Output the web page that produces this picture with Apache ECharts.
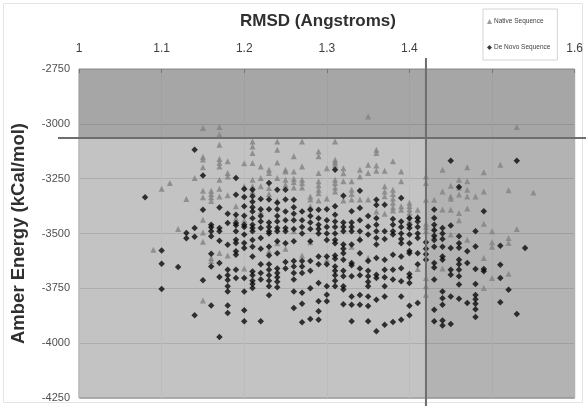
<!DOCTYPE html>
<html>
<head>
<meta charset="utf-8">
<script src="https://cdn.jsdelivr.net/npm/echarts@6/dist/echarts.min.js"></script>
<style>
  html, body { margin: 0; padding: 0; background: #ffffff; }
  #chart { width: 586px; height: 406px; }
</style>
</head>
<body>
<div id="chart"></div>
<script>
// Axis ranges and cut-off lines
const rmsdTicks = [1, 1.1, 1.2, 1.3, 1.4, 1.5, 1.6];
const energyTicks = [-4250, -4000, -3750, -3500, -3250, -3000, -2750];
const rmsdCutoff = 1.42;
const energyCutoff = -3065;

// Native sequence: [RMSD, energies at that RMSD]
const nativeSequence = [
  [1.09, [-3574]],
  [1.10, [-3296]],
  [1.11, [-3270]],
  [1.12, [-3480]],
  [1.13, [-3343]],
  [1.14, [-3247]],
  [1.15, [-3019, -3150, -3163, -3198, -3305, -3335, -3437, -3495, -3538, -3805]],
  [1.16, [-3305, -3320, -3335, -3352, -3612, -3625]],
  [1.17, [-3015, -3050, -3095, -3160, -3178, -3194, -3255, -3296, -3331, -3589]],
  [1.18, [-3171, -3224, -3240, -3326, -3600]],
  [1.19, [-3376, -3430]],
  [1.20, [-3180, -3285, -3440, -3660]],
  [1.21, [-3080, -3103, -3133, -3179, -3255, -3285, -3310]],
  [1.22, [-3194, -3247, -3285, -3400]],
  [1.23, [-3209, -3224, -3293, -3320, -3580]],
  [1.24, [-3080, -3118, -3176, -3247, -3350, -3545]],
  [1.25, [-3209, -3217, -3255, -3278, -3570]],
  [1.26, [-3148, -3217, -3250, -3265, -3290, -3490]],
  [1.27, [-3080, -3194, -3255, -3270, -3290, -3600]],
  [1.28, [-3331, -3345, -3376, -3540]],
  [1.29, [-3126, -3148, -3224, -3262, -3280, -3300, -3316, -3350]],
  [1.30, [-3202, -3340, -3620]],
  [1.31, [-3080, -3164, -3175, -3186, -3255, -3270, -3290, -3308]],
  [1.32, [-3202, -3225, -3262, -3350]],
  [1.33, [-3262, -3300, -3320, -3345, -3560]],
  [1.34, [-3209, -3240, -3345, -3520]],
  [1.35, [-2966, -3186, -3224, -3345, -3610]],
  [1.36, [-3118, -3133, -3190, -3214, -3400]],
  [1.37, [-3214, -3285, -3308, -3330, -3410]],
  [1.38, [-3171, -3300, -3320, -3340, -3360, -3380, -3395]],
  [1.39, [-3217, -3262, -3376, -3392]],
  [1.40, [-3360, -3375, -3390, -3405, -3420, -3440]],
  [1.41, [-3392, -3420, -3662]],
  [1.42, [-3240, -3270, -3346, -3455, -3470, -3490, -3703, -3741, -3779]],
  [1.43, [-3346, -3475, -3510]],
  [1.44, [-3209, -3308, -3391, -3660]],
  [1.45, [-3282, -3331, -3341, -3392, -3505]],
  [1.46, [-3255, -3290, -3322, -3406, -3440]],
  [1.47, [-3198, -3262, -3300, -3331, -3386, -3528]],
  [1.48, [-3331]],
  [1.49, [-3221, -3308, -3455, -3612, -3749]],
  [1.50, [-3490, -3540, -3560, -3703]],
  [1.51, [-3186]],
  [1.52, [-3303, -3521, -3543, -3683]],
  [1.53, [-3014, -3480]],
  [1.55, [-3313]]
];

// De novo sequence: [RMSD, energies at that RMSD]
const deNovoSequence = [
  [1.08, [-3335]],
  [1.10, [-3578, -3638, -3753]],
  [1.12, [-3653]],
  [1.13, [-3498, -3522]],
  [1.14, [-3118, -3475, -3515, -3873]],
  [1.15, [-3236, -3392, -3713]],
  [1.16, [-3460, -3472, -3490, -3513, -3592, -3650, -3828]],
  [1.17, [-3381, -3475, -3490, -3533, -3635, -3698, -3972]],
  [1.18, [-3410, -3452, -3551, -3665, -3690, -3712, -3740, -3764, -3828, -3862]],
  [1.19, [-3247, -3323, -3414, -3452, -3462, -3490, -3528, -3543, -3581, -3597, -3665, -3703]],
  [1.20, [-3297, -3334, -3376, -3419, -3460, -3470, -3505, -3543, -3566, -3703, -3764, -3850, -3900]],
  [1.21, [-3300, -3330, -3355, -3380, -3400, -3430, -3460, -3475, -3490, -3530, -3560, -3605, -3673, -3690, -3715, -3730, -3749]],
  [1.22, [-3343, -3389, -3420, -3445, -3475, -3520, -3570, -3640, -3680, -3710, -3900]],
  [1.23, [-3270, -3345, -3390, -3450, -3470, -3490, -3500, -3560, -3600, -3640, -3665, -3690, -3715, -3740, -3782]],
  [1.24, [-3300, -3360, -3390, -3420, -3445, -3475, -3490, -3535, -3590, -3660, -3680, -3700, -3720, -3745]],
  [1.25, [-3300, -3345, -3400, -3440, -3475, -3490, -3545, -3630, -3660]],
  [1.26, [-3346, -3380, -3410, -3440, -3480, -3535, -3625, -3650, -3680, -3710, -3765, -3840]],
  [1.27, [-3400, -3440, -3470, -3500, -3625, -3650, -3680, -3770, -3820, -3905]],
  [1.28, [-3392, -3420, -3450, -3480, -3535, -3625, -3670, -3750, -3890]],
  [1.29, [-3392, -3430, -3460, -3480, -3500, -3605, -3640, -3726, -3809, -3855, -3893]],
  [1.30, [-3389, -3440, -3470, -3500, -3530, -3605, -3640, -3741, -3779, -3809]],
  [1.31, [-3209, -3376, -3414, -3445, -3470, -3500, -3530, -3545, -3600, -3615, -3650, -3670, -3690, -3715, -3740]],
  [1.32, [-3328, -3450, -3470, -3490, -3550, -3570, -3590, -3620, -3670, -3695, -3740, -3755, -3822]],
  [1.33, [-3399, -3450, -3470, -3490, -3550, -3635, -3645, -3695, -3787, -3825, -3900]],
  [1.34, [-3305, -3384, -3440, -3490, -3530, -3590, -3660, -3690, -3780, -3825]],
  [1.35, [-3420, -3468, -3505, -3625, -3670, -3695, -3720, -3740, -3787, -3830, -3900]],
  [1.36, [-3346, -3370, -3430, -3460, -3490, -3520, -3550, -3612, -3688, -3703, -3802, -3946]],
  [1.37, [-3369, -3490, -3525, -3620, -3665, -3700, -3740, -3787, -3916]],
  [1.38, [-3434, -3460, -3490, -3505, -3597, -3665, -3710, -3903]],
  [1.39, [-3338, -3445, -3470, -3500, -3525, -3545, -3605, -3658, -3718, -3787, -3893]],
  [1.40, [-3430, -3460, -3475, -3505, -3545, -3580, -3590, -3685, -3700, -3726, -3829, -3873]],
  [1.41, [-3429, -3445, -3470, -3500, -3520, -3590, -3640, -3817]],
  [1.42, [-3540, -3570, -3595, -3620]],
  [1.43, [-3391, -3429, -3460, -3485, -3510, -3530, -3560, -3635, -3655, -3710, -3848, -3900]],
  [1.44, [-3475, -3500, -3525, -3560, -3605, -3620, -3765, -3795, -3825, -3897, -3920]],
  [1.45, [-3168, -3464, -3566, -3665, -3688, -3787, -3913]],
  [1.46, [-3288, -3513, -3545, -3565, -3620, -3640, -3665, -3695, -3733, -3797]],
  [1.47, [-3581, -3635, -3817]],
  [1.48, [-3490, -3559, -3662, -3730, -3780, -3800, -3820, -3845, -3881]],
  [1.49, [-3399, -3662, -3672]],
  [1.51, [-3556, -3642, -3703, -3814]],
  [1.52, [-3756]],
  [1.53, [-3168, -3867]],
  [1.54, [-3566]]
];

function toPoints(columns) {
  const pts = [];
  columns.forEach(([rmsd, energies]) => energies.forEach(e => pts.push([rmsd, e])));
  return pts;
}

const FONT = 'Liberation Sans, Arial, sans-serif';
const chart = echarts.init(document.getElementById('chart'), null, { renderer: 'canvas' });

chart.setOption({
  animation: false,
  backgroundColor: '#ffffff',
  title: {
    text: 'RMSD (Angstroms)',
    left: 313,
    top: 8,
    textAlign: 'center',
    textStyle: { fontFamily: FONT, fontSize: 17, fontWeight: 'bold', color: '#303030' }
  },
  legend: {
    orient: 'vertical',
    left: 483,
    top: 9,
    itemWidth: 5,
    itemHeight: 5,
    itemGap: 19,
    padding: [9, 7, 9, 4],
    backgroundColor: '#ffffff',
    borderColor: '#d4d4d4',
    borderWidth: 1,
    textStyle: { fontFamily: FONT, fontSize: 6.5, color: '#404040', padding: [0, 0, 0, -3] },
    data: [
      { name: 'Native Sequence', icon: 'triangle' },
      { name: 'De Novo Sequence', icon: 'diamond' }
    ],
    z: 20
  },
  grid: {
    left: 79, top: 69, width: 497, height: 329,
    show: true,
    backgroundColor: '#c3c3c3',
    borderColor: '#8c8c8c',
    borderWidth: 1
  },
  xAxis: {
    type: 'value',
    position: 'top',
    min: rmsdTicks[0],
    max: rmsdTicks[rmsdTicks.length - 1],
    interval: 0.1,
    axisLine: { show: false },
    axisTick: { show: true, length: 4, inside: true, lineStyle: { color: '#8c8c8c' } },
    axisLabel: {
      margin: 14,
      fontFamily: FONT, fontSize: 12, color: '#404040',
      formatter: v => String(Math.round(v * 10) / 10)
    },
    splitLine: { show: true, lineStyle: { color: '#bcbcbc', width: 1 } }
  },
  yAxis: {
    type: 'value',
    min: energyTicks[0],
    max: energyTicks[energyTicks.length - 1],
    interval: 250,
    name: 'Amber Energy (kCal/mol)',
    nameLocation: 'middle',
    nameGap: 51,
    nameTextStyle: { fontFamily: FONT, fontSize: 18.5, fontWeight: 'bold', color: '#303030' },
    axisLine: { show: false },
    axisTick: { show: false },
    axisLabel: {
      margin: 9, fontFamily: FONT, fontSize: 11, color: '#505050',
      formatter: v => String(v)
    },
    splitLine: { show: true, lineStyle: { color: '#adadad', width: 1 } }
  },
  series: [
    {
      name: 'Native Sequence',
      type: 'scatter',
      symbol: 'triangle',
      symbolSize: 6,
      itemStyle: { color: '#828282' },
      data: toPoints(nativeSequence),
      markArea: {
        silent: true,
        data: [
          [
            { xAxis: rmsdTicks[0], yAxis: energyCutoff, itemStyle: { color: 'rgba(0,0,0,0.15)' } },
            { xAxis: rmsdTicks[rmsdTicks.length - 1], yAxis: energyTicks[energyTicks.length - 1] }
          ],
          [
            { xAxis: rmsdCutoff, yAxis: energyTicks[0], itemStyle: { color: 'rgba(0,0,0,0.08)' } },
            { xAxis: rmsdTicks[rmsdTicks.length - 1], yAxis: energyCutoff }
          ]
        ]
      }
    },
    {
      name: 'De Novo Sequence',
      type: 'scatter',
      symbol: 'diamond',
      symbolSize: 6.5,
      itemStyle: { color: '#0a0a0a' },
      data: toPoints(deNovoSequence)
    }
  ]
});

// Cut-off lines run past the plot frame on both ends
const [cx, cy] = chart.convertToPixel({ xAxisIndex: 0, yAxisIndex: 0 }, [rmsdCutoff, energyCutoff]);
chart.setOption({
  graphic: [
    { type: 'rect', shape: { x: 3.5, y: 3.5, width: 579, height: 399 }, style: { fill: 'none', stroke: '#e4e4e4', lineWidth: 1 }, z: 0 },
    { type: 'line', shape: { x1: 58, y1: cy, x2: 586, y2: cy }, style: { stroke: '#6e6e6e', lineWidth: 2 }, z: 5 },
    { type: 'line', shape: { x1: cx, y1: 58, x2: cx, y2: 406 }, style: { stroke: '#6e6e6e', lineWidth: 2 }, z: 5 }
  ]
});
</script>
</body>
</html>
